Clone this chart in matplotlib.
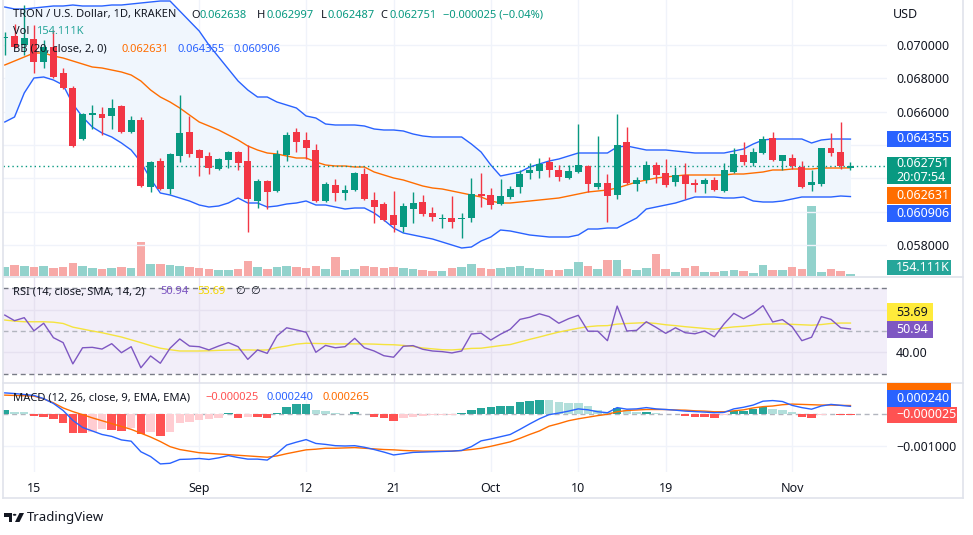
import matplotlib
matplotlib.use("Agg")
import matplotlib.pyplot as plt
from matplotlib.patches import Rectangle, Polygon, Circle
from matplotlib.lines import Line2D
import numpy as np
import pandas as pd

plt.rcParams['font.family'] = ['Noto Sans', 'DejaVu Sans']

# ---------------- data ----------------
start_date = "2022-08-12"
opens = [0.07040, 0.07054, 0.07000, 0.07036, 0.06898, 0.06988, 0.06832, 0.06742, 0.06436, 0.06580,
         0.06586, 0.06574, 0.06634, 0.06478, 0.06550, 0.06148, 0.06304, 0.06136, 0.06334, 0.06478,
         0.06370, 0.06334, 0.06256, 0.06310, 0.06358, 0.06304, 0.06064, 0.06184, 0.06124, 0.06340,
         0.06478, 0.06430, 0.06370, 0.06064, 0.06160, 0.06112, 0.06130, 0.06226, 0.06070, 0.06046,
         0.05980, 0.05908, 0.06016, 0.06058, 0.05992, 0.05956, 0.05962, 0.05956, 0.05962, 0.06106,
         0.06100, 0.06046, 0.06088, 0.06148, 0.06232, 0.06244, 0.06298, 0.06250, 0.06202, 0.06238,
         0.06274, 0.06148, 0.06172, 0.06100, 0.06418, 0.06166, 0.06190, 0.06280, 0.06232, 0.06178,
         0.06220, 0.06172, 0.06166, 0.06190, 0.06124, 0.06238, 0.06340, 0.06292, 0.06352, 0.06442,
         0.06304, 0.06322, 0.06268, 0.06160, 0.06166, 0.06382, 0.06358, 0.062638]
highs = [0.07078, 0.07126, 0.07240, 0.07120, 0.07030, 0.07090, 0.06862, 0.06754, 0.06592, 0.06640,
         0.06628, 0.06676, 0.06640, 0.06574, 0.06568, 0.06304, 0.06322, 0.06352, 0.06700, 0.06574,
         0.06376, 0.06358, 0.06322, 0.06364, 0.06364, 0.06400, 0.06196, 0.06190, 0.06370, 0.06478,
         0.06502, 0.06478, 0.06406, 0.06178, 0.06196, 0.06160, 0.06238, 0.06262, 0.06118, 0.06058,
         0.06124, 0.06052, 0.06118, 0.06100, 0.06028, 0.05986, 0.06094, 0.05992, 0.06202, 0.06232,
         0.06142, 0.06196, 0.06154, 0.06250, 0.06292, 0.06322, 0.06328, 0.06280, 0.06280, 0.06526,
         0.06280, 0.06454, 0.06226, 0.06586, 0.06508, 0.06208, 0.06304, 0.06298, 0.06316, 0.06268,
         0.06292, 0.06196, 0.06202, 0.06208, 0.06292, 0.06382, 0.06418, 0.06382, 0.06454, 0.06478,
         0.06340, 0.06346, 0.06304, 0.06250, 0.06382, 0.06472, 0.06538, 0.062997]
lows = [0.06940, 0.06982, 0.06940, 0.06832, 0.06862, 0.06802, 0.06736, 0.06388, 0.06430, 0.06496,
        0.06460, 0.06496, 0.06472, 0.06472, 0.06148, 0.06118, 0.06130, 0.06106, 0.06298, 0.06328,
        0.06214, 0.06226, 0.06250, 0.06262, 0.06250, 0.05878, 0.06022, 0.06016, 0.06118, 0.06304,
        0.06358, 0.06316, 0.06058, 0.06058, 0.06064, 0.06070, 0.06124, 0.06070, 0.05932, 0.05944,
        0.05878, 0.05878, 0.05932, 0.05974, 0.05944, 0.05902, 0.05902, 0.05842, 0.05938, 0.06028,
        0.06016, 0.06040, 0.06076, 0.06112, 0.06196, 0.06202, 0.06208, 0.06184, 0.06196, 0.06232,
        0.06118, 0.06136, 0.05938, 0.06076, 0.06166, 0.06124, 0.06172, 0.06172, 0.06148, 0.06154,
        0.06076, 0.06118, 0.06112, 0.06126, 0.06120, 0.06232, 0.06280, 0.06274, 0.06346, 0.06304,
        0.06250, 0.06256, 0.06142, 0.06124, 0.06154, 0.06334, 0.06256, 0.062487]
closes = [0.07046, 0.06988, 0.07042, 0.06898, 0.06988, 0.06808, 0.06742, 0.06394, 0.06586, 0.06592,
          0.06562, 0.06622, 0.06478, 0.06550, 0.06154, 0.06300, 0.06136, 0.06346, 0.06472, 0.06346,
          0.06322, 0.06262, 0.06316, 0.06358, 0.06292, 0.06076, 0.06184, 0.06118, 0.06346, 0.06460,
          0.06418, 0.06382, 0.06064, 0.06166, 0.06112, 0.06130, 0.06232, 0.06076, 0.06028, 0.05950,
          0.05920, 0.06034, 0.06052, 0.05986, 0.05968, 0.05962, 0.05938, 0.05962, 0.06106, 0.06094,
          0.06040, 0.06094, 0.06136, 0.06226, 0.06250, 0.06286, 0.06250, 0.06208, 0.06244, 0.06280,
          0.06166, 0.06172, 0.06094, 0.06400, 0.06172, 0.06190, 0.06280, 0.06220, 0.06160, 0.06220,
          0.06166, 0.06160, 0.06190, 0.06130, 0.06250, 0.06346, 0.06298, 0.06358, 0.06436, 0.06310,
          0.06340, 0.06274, 0.06148, 0.06178, 0.06382, 0.06352, 0.06274, 0.062751]
volumes_k = [900, 1100, 1000, 900, 1000, 800, 900, 1300, 1000, 800,
             700, 800, 900, 800, 3400, 1200, 1200, 1100, 1000, 900,
             800, 700, 600, 600, 700, 1500, 900, 700, 900, 1000,
             900, 800, 1000, 700, 1900, 600, 700, 1000, 900, 800,
             900, 800, 700, 600, 500, 500, 800, 900, 1200, 800,
             700, 800, 900, 1000, 800, 700, 600, 600, 700, 1400,
             1000, 700, 1600, 1600, 700, 600, 800, 2200, 700, 400,
             800, 1000, 400, 400, 500, 600, 500, 300, 1100, 600,
             600, 900, 700, 7000, 400, 700, 500, 154.111]
bb_basis = [0.06880, 0.06904, 0.06928, 0.06952, 0.06952, 0.06934, 0.06922, 0.06904, 0.06886, 0.06868,
            0.06862, 0.06850, 0.06838, 0.06820, 0.06784, 0.06730, 0.06688, 0.06658, 0.06622, 0.06580,
            0.06538, 0.06514, 0.06490, 0.06460, 0.06430, 0.06394, 0.06370, 0.06352, 0.06346, 0.06334,
            0.06322, 0.06322, 0.06298, 0.06280, 0.06274, 0.06274, 0.06268, 0.06268, 0.06238, 0.06220,
            0.06202, 0.06190, 0.06172, 0.06154, 0.06142, 0.06136, 0.06124, 0.06112, 0.06100, 0.06088,
            0.06064, 0.06052, 0.06052, 0.06058, 0.06064, 0.06070, 0.06076, 0.06082, 0.06094, 0.06106,
            0.06118, 0.06124, 0.06130, 0.06142, 0.06160, 0.06178, 0.06190, 0.06202, 0.06208, 0.06214,
            0.06220, 0.06220, 0.06220, 0.06220, 0.06220, 0.06226, 0.06226, 0.06232, 0.06238, 0.06250,
            0.06250, 0.06256, 0.06256, 0.06256, 0.06262, 0.06262, 0.06262, 0.062631]
bb_upper = [0.07228, 0.07216, 0.07216, 0.07222, 0.07228, 0.07234, 0.07234, 0.07240, 0.07234, 0.07234,
            0.07234, 0.07240, 0.07240, 0.07246, 0.07252, 0.07258, 0.07264, 0.07264, 0.07204, 0.07144,
            0.07084, 0.07000, 0.06928, 0.06856, 0.06784, 0.06730, 0.06688, 0.06688, 0.06658, 0.06640,
            0.06622, 0.06574, 0.06562, 0.06526, 0.06520, 0.06520, 0.06520, 0.06514, 0.06496, 0.06490,
            0.06490, 0.06484, 0.06466, 0.06454, 0.06448, 0.06448, 0.06448, 0.06448, 0.06406, 0.06358,
            0.06280, 0.06214, 0.06226, 0.06238, 0.06268, 0.06286, 0.06304, 0.06316, 0.06334, 0.06352,
            0.06352, 0.06352, 0.06352, 0.06388, 0.06394, 0.06382, 0.06370, 0.06370, 0.06370, 0.06364,
            0.06358, 0.06352, 0.06352, 0.06352, 0.06352, 0.06364, 0.06376, 0.06406, 0.06430, 0.06436,
            0.06436, 0.06436, 0.06436, 0.06412, 0.06430, 0.06436, 0.06436, 0.064355]
bb_lower = [0.06538, 0.06568, 0.06712, 0.06802, 0.06808, 0.06790, 0.06760, 0.06646, 0.06568, 0.06508,
            0.06472, 0.06448, 0.06412, 0.06370, 0.06298, 0.06196, 0.06112, 0.06100, 0.06082, 0.06064,
            0.06040, 0.06028, 0.06034, 0.06052, 0.06082, 0.06052, 0.06052, 0.06028, 0.06034, 0.06046,
            0.06052, 0.06064, 0.06040, 0.06040, 0.06028, 0.06016, 0.06022, 0.06022, 0.05992, 0.05950,
            0.05902, 0.05872, 0.05860, 0.05848, 0.05836, 0.05818, 0.05800, 0.05782, 0.05788, 0.05824,
            0.05848, 0.05890, 0.05884, 0.05872, 0.05860, 0.05854, 0.05848, 0.05848, 0.05848, 0.05860,
            0.05896, 0.05896, 0.05902, 0.05902, 0.05932, 0.05962, 0.06016, 0.06028, 0.06040, 0.06052,
            0.06070, 0.06088, 0.06088, 0.06088, 0.06082, 0.06082, 0.06088, 0.06064, 0.06058, 0.06058,
            0.06064, 0.06076, 0.06088, 0.06088, 0.06088, 0.06088, 0.06094, 0.060906]
rsi = [57.4, 54.8, 56.2, 50.1, 53.6, 46.9, 44.6, 34.7, 42.2, 42.4,
       41.6, 44.1, 39.9, 42.7, 32.9, 38.4, 35.0, 42.0, 46.3, 43.0,
       42.7, 41.2, 43.0, 44.6, 42.7, 36.8, 41.2, 39.6, 47.7, 51.5,
       50.5, 49.4, 40.1, 43.3, 42.2, 42.7, 46.6, 42.2, 40.7, 38.5,
       37.8, 42.9, 43.2, 41.5, 40.7, 40.4, 39.8, 40.7, 48.6, 49.0,
       45.8, 48.5, 50.8, 55.4, 56.4, 58.0, 56.7, 53.6, 55.7, 57.3,
       49.9, 49.9, 45.5, 61.6, 50.0, 50.3, 54.3, 51.7, 48.9, 51.5,
       49.2, 48.7, 50.0, 47.3, 53.3, 58.2, 55.7, 58.2, 61.8, 54.2,
       55.3, 52.0, 45.5, 47.1, 56.7, 55.4, 51.5, 50.94]
rsi_ma = [55.1, 54.6, 54.3, 54.3, 54.3, 54.1, 53.5, 51.8, 50.9, 50.0,
          49.2, 48.2, 47.2, 45.9, 44.6, 43.2, 42.0, 41.3, 40.7, 40.7,
          40.7, 40.8, 41.0, 41.1, 41.2, 41.2, 41.1, 41.2, 42.3, 43.0,
          43.9, 44.3, 44.2, 44.1, 44.0, 44.0, 44.0, 44.0, 43.9, 43.7,
          43.6, 43.3, 42.8, 42.1, 41.7, 41.3, 41.2, 41.5, 41.9, 42.0,
          42.6, 43.2, 43.7, 44.9, 46.1, 47.2, 48.4, 49.5, 50.4, 51.3,
          52.0, 52.4, 52.5, 53.2, 53.5, 53.7, 53.9, 53.5, 52.9, 52.5,
          52.0, 51.6, 51.2, 50.8, 51.4, 51.9, 52.2, 52.6, 53.1, 53.3,
          53.3, 53.1, 52.9, 52.7, 53.0, 53.5, 53.7, 53.69]
macd = [0.00066, 0.00064, 0.00061, 0.00058, 0.00048, 0.00033, 0.00011, -0.00020, -0.00042, -0.00053,
        -0.00064, -0.00070, -0.00081, -0.00085, -0.00118, -0.00133, -0.00156, -0.00154, -0.00142, -0.00141,
        -0.00139, -0.00142, -0.00137, -0.00130, -0.00136, -0.00141, -0.00141, -0.00144, -0.00123, -0.00097,
        -0.00088, -0.00080, -0.00092, -0.00095, -0.00099, -0.00100, -0.00099, -0.00104, -0.00111, -0.00119,
        -0.00128, -0.00124, -0.00120, -0.00119, -0.00118, -0.00117, -0.00116, -0.00114, -0.00102, -0.00084,
        -0.00078, -0.00071, -0.00064, -0.00048, -0.00031, -0.00015, -0.00002, 0.00003, 0.00009, 0.00016,
        0.00013, 0.00007, 0.00004, 0.00020, 0.00015, 0.00016, 0.00020, 0.00016, 0.00014, 0.00012,
        0.00009, 0.000075, 0.00006, 0.00004, 0.00005, 0.00016, 0.00021, 0.00028, 0.00040, 0.00042,
        0.00039, 0.00027, 0.00020, 0.00015, 0.00025, 0.00030, 0.00027, 0.000240]
macd_signal = [0.00059, 0.00058, 0.00057, 0.00056, 0.00047, 0.00035, 0.00019, 0.000075, -0.00002, -0.00012,
               -0.00021, -0.00030, -0.00039, -0.00048, -0.00060, -0.00072, -0.00086, -0.00102, -0.00111, -0.00116,
               -0.00121, -0.00123, -0.00125, -0.00127, -0.00129, -0.00131, -0.00133, -0.00135, -0.00131, -0.00124,
               -0.00118, -0.00112, -0.00110, -0.00107, -0.00107, -0.00106, -0.00105, -0.00107, -0.00109, -0.00111,
               -0.00112, -0.00114, -0.00115, -0.00116, -0.00116, -0.00116, -0.00116, -0.00114, -0.00111, -0.00107,
               -0.00101, -0.00094, -0.00087, -0.00076, -0.00064, -0.00053, -0.00038, -0.00030, -0.00021, -0.00015,
               -0.00010, -0.00005, -0.00001, 0.00007, 0.00011, 0.000125, 0.00014, 0.00014, 0.00014, 0.000125,
               0.00012, 0.00010, 0.00009, 0.00007, 0.00007, 0.00010, 0.00013, 0.00019, 0.00023, 0.00025,
               0.00029, 0.00031, 0.00030, 0.00029, 0.00028, 0.00028, 0.00027, 0.000265]
macd_hist = [0.000125, 0.00007, 0.00005, -0.00006, -0.00008, -0.00017, -0.00029, -0.00058, -0.00060, -0.00057,
             -0.00048, -0.00050, -0.00052, -0.00044, -0.00063, -0.00056, -0.00068, -0.00055, -0.00029, -0.00024,
             -0.00019, -0.00017, -0.00013, 0.00002, -0.00013, -0.00010, -0.00010, -0.00013, 0.00003, 0.00023,
             0.00031, 0.00032, 0.000125, 0.00009, 0.00002, 0.00001, 0.00005, 0.0, -0.00008, -0.00013,
             -0.00021, -0.00013, -0.00008, -0.00006, -0.00004, -0.00003, -0.00002, 0.00002, 0.000125, 0.00018,
             0.00021, 0.00025, 0.00026, 0.00036, 0.00041, 0.00044, 0.00043, 0.00036, 0.00034, 0.00033,
             0.00025, 0.000125, 0.00005, 0.00018, 0.000125, 0.00006, 0.00007, 0.00003, 0.00001, 0.0,
             -0.00006, -0.00008, -0.00008, -0.00012, -0.00004, 0.00008, 0.00010, 0.00015, 0.00023, 0.00016,
             0.000125, 0.00006, -0.00008, -0.00013, -0.00002, 0.00001, -0.00002, -0.000025]
tick_dates = ["2022-08-15", "2022-09-01", "2022-09-12", "2022-09-21",
              "2022-10-01", "2022-10-10", "2022-10-19", "2022-11-01"]
tick_labels = ["15", "Sep", "12", "21", "Oct", "10", "19", "Nov"]
price_grid = [0.058, 0.060, 0.062, 0.064, 0.066, 0.068, 0.070]
price_labeled = [0.058, 0.066, 0.068, 0.070]
rsi_grid = [40, 60]
rsi_labeled = [40]
macd_labeled = [-0.001]

# ---------------- colors ----------------
UP, DN = '#089981', '#f23645'
VUP, VDN = '#92d2cc', '#f7a9a7'
TXT = '#131722'
GRID = '#f0f3fa'
BORDER = '#e0e3eb'
BLUE, ORANGE, PURPLE, YELLOW = '#2962ff', '#ff6d00', '#7e57c2', '#f5e33e'

W, H = 973, 535
fig = plt.figure(figsize=(W / 100, H / 100), dpi=100)
fig.patch.set_facecolor('white')


def rect_px(x0, y0, x1, y1):
    return [x0 / W, 1 - y1 / H, (x1 - x0) / W, (y1 - y0) / H]


n = len(closes)
dates = pd.date_range(start_date, periods=n, freq="D")
idx = np.arange(n)
tick_idx = [dates.get_loc(pd.Timestamp(d)) for d in tick_dates]
X0_PX, STEP_PX = 4.8, 9.72
xlim = ((3 - X0_PX) / STEP_PX, (887 - X0_PX) / STEP_PX)

ax_vol = fig.add_axes(rect_px(3, 0, 887, 277))
ax_p = fig.add_axes(rect_px(3, 0, 887, 277))
ax_r = fig.add_axes(rect_px(3, 277, 887, 383))
ax_m = fig.add_axes(rect_px(3, 383, 887, 472))

for ax in (ax_vol, ax_p, ax_r, ax_m):
    ax.set_xlim(*xlim)
    for s in ax.spines.values():
        s.set_visible(False)
    ax.set_xticks(tick_idx)
    ax.tick_params(axis='both', length=0, labelbottom=False, labelleft=False)
ax_p.patch.set_alpha(0)

# vertical grid
for ax in (ax_vol, ax_m):
    for t in tick_idx:
        ax.axvline(t, color=GRID, lw=1, zorder=0)

# ---- price pane ----
o = np.array(opens); c = np.array(closes); hi = np.array(highs); lo = np.array(lows)
up = c >= o
ax_p.set_ylim(0.05608, 0.0727)
for yv in price_grid:
    ax_p.axhline(yv, color=GRID, lw=1, zorder=0)
ax_p.set_yticks(price_labeled)
ax_p.set_yticklabels([f"{v:.6f}" for v in price_labeled])
ax_p.yaxis.tick_right()
ax_p.tick_params(axis='y', labelright=True, labelsize=9, pad=6.5, colors=TXT)

# volume
ax_vol.set_ylim(-100, 27600)
ax_vol.bar(idx, volumes_k, width=0.88, color=np.where(up, VUP, VDN), zorder=1)
ax_vol.set_yticks([])

ax_p.fill_between(idx, bb_lower, bb_upper, color='#f0f6fd', lw=0, zorder=1)
ax_p.plot(idx, bb_upper, color=BLUE, lw=1.0, zorder=2)
ax_p.plot(idx, bb_lower, color=BLUE, lw=1.0, zorder=2)
ax_p.plot(idx, bb_basis, color=ORANGE, lw=1.0, zorder=2)
ax_p.axhline(closes[-1], color=UP, lw=1, ls=(0, (1, 2.2)), zorder=2)

cols = np.where(up, UP, DN)
ax_p.vlines(idx, lo, hi, colors=cols, lw=1.0, zorder=3)
body_h = np.maximum(np.abs(c - o), 0.000035)
ax_p.bar(idx, body_h, bottom=np.minimum(o, c), width=0.72, color=cols, zorder=4)

# ---- RSI pane ----
ax_r.set_ylim(25.81, 75.12)
ax_r.axhspan(30, 70, color='#f2eef9', lw=0, zorder=0)
for t in tick_idx:
    ax_r.axvline(t, color='#e6e1f0', lw=1, zorder=0.5)
for yv in rsi_grid:
    ax_r.axhline(yv, color='#e6e1f0', lw=1, zorder=0.5)
ax_r.axhline(70, color='#787b86', lw=1, ls=(0, (3.6, 2.6)), zorder=1)
ax_r.axhline(30, color='#787b86', lw=1, ls=(0, (3.6, 2.6)), zorder=1)
ax_r.axhline(50, color='#b2b5be', lw=1, ls=(0, (3.6, 2.6)), zorder=1)
ax_r.plot(idx, rsi_ma, color=YELLOW, lw=1.0, zorder=2)
ax_r.plot(idx, rsi, color=PURPLE, lw=1.0, zorder=3)
ax_r.set_yticks(rsi_labeled)
ax_r.set_yticklabels([f"{v:.2f}" for v in rsi_labeled])
ax_r.yaxis.tick_right()
ax_r.tick_params(axis='y', labelright=True, labelsize=9, pad=6.5, colors=TXT)

# ---- MACD pane ----
ax_m.set_ylim(-0.0018125, 0.00096875)
ax_m.axhline(-0.001, color=GRID, lw=1, zorder=0)
ax_m.axhline(0, color='#b2b5be', lw=1, ls=(0, (3.6, 2.6)), zorder=1)
hcols = []
for i, v in enumerate(macd_hist):
    prev = macd_hist[i - 1] if i > 0 else 0.0
    if v >= 0:
        hcols.append('#26a69a' if v > prev else '#b2dfdb')
    else:
        hcols.append('#ffcdd2' if v > prev else '#ff5252')
ax_m.bar(idx, macd_hist, width=0.87, color=hcols, zorder=2)
ax_m.plot(idx, macd_signal, color=ORANGE, lw=1.0, zorder=3)
ax_m.plot(idx, macd, color=BLUE, lw=1.0, zorder=4)
ax_m.set_yticks(macd_labeled)
ax_m.set_yticklabels(["\u22120.001000"])
ax_m.yaxis.tick_right()
ax_m.tick_params(axis='y', labelright=True, labelsize=9, pad=6.5, colors=TXT)
ax_m.set_xticklabels(tick_labels)
ax_m.tick_params(axis='x', labelbottom=True, labelsize=9, pad=7, colors=TXT)

# ---------------- figure-level decorations ----------------
def hline(y, x0, x1, color=BORDER):
    fig.add_artist(Line2D([x0 / W, x1 / W], [1 - y / H, 1 - y / H], color=color, lw=1.2,
                          transform=fig.transFigure, zorder=5))


def vline(x, y0, y1, color=BORDER):
    fig.add_artist(Line2D([x / W, x / W], [1 - y0 / H, 1 - y1 / H], color=color, lw=1.2,
                          transform=fig.transFigure, zorder=5))


hline(277, 3, 963)
hline(383, 3, 963)
hline(498, 3, 963)
vline(3, 0, 498)
vline(963, 0, 498)


def tag(x0, y0, x1, y1, color, lines, tcolor='white'):
    fig.add_artist(Rectangle((x0 / W, 1 - y1 / H), (x1 - x0) / W, (y1 - y0) / H,
                             transform=fig.transFigure, facecolor=color, edgecolor='none', zorder=8))
    hh = (y1 - y0) / len(lines)
    for k, s in enumerate(lines):
        yc = y0 + hh * (k + 0.5)
        fig.text(896 / W, 1 - yc / H, s, color=tcolor, fontsize=9, va='center', ha='left',
                 zorder=9)


tag(887, 131, 951, 147, BLUE, ["0.064355"])
tag(887, 157, 951, 184, UP, ["0.062751", "20:07:54"])
tag(887, 187, 951, 204, ORANGE, ["0.062631"])
tag(887, 205, 951, 222, BLUE, ["0.060906"])
tag(887, 260, 951, 275, '#26a69a', ["154.111K"])
tag(887, 303, 933, 321, '#ffeb3b', ["53.69"], tcolor=TXT)
tag(887, 321, 933, 338, PURPLE, ["50.94"])
tag(887, 383, 951, 390, ORANGE, [""])
tag(887, 390, 951, 407, BLUE, ["0.000240"])
tag(887, 407, 957, 423, '#ff5252', ["\u22120.000025"])

fig.text(893 / W, 1 - 15 / H, "USD", color=TXT, fontsize=9, va='center', ha='left')


def legend(y, parts, size=8):
    for x, s, col in parts:
        fig.text(x / W, 1 - y / H, s, color=col, fontsize=size, va='center', ha='left', zorder=7)


legend(15, [(12.7, "TRON / U.S. Dollar, 1D, KRAKEN", TXT),
            (191, "O", TXT), (200, "0.062638", UP),
            (257, "H", TXT), (266.5, "0.062997", UP),
            (320.5, "L", TXT), (328, "0.062487", UP),
            (380, "C", TXT), (389.5, "0.062751", UP),
            (443, "\u22120.000025 (\u22120.04%)", UP)])
legend(32, [(12.7, "Vol", TXT), (36, "154.111K", '#26a69a')])
legend(49, [(12.7, "BB (20, close, 2, 0)", TXT), (122, "0.062631", ORANGE),
            (178, "0.064355", BLUE), (233, "0.060906", BLUE)])
legend(292, [(12.7, "RSI (14, close, SMA, 14, 2)", TXT), (160.7, "50.94", PURPLE),
             (197, "53.69", '#f2d600'), (235, "\u2205", TXT), (250, "\u2205", TXT)])
legend(398, [(12.7, "MACD (12, 26, close, 9, EMA, EMA)", TXT), (205, "\u22120.000025", '#ff5252'),
             (266.7, "0.000240", BLUE), (322.7, "0.000265", ORANGE)])

# TradingView logo + wordmark
def P(pts):
    return [(x / W, 1 - y / H) for x, y in pts]


fig.add_artist(Polygon(P([(4, 513), (12, 513), (12, 522), (8.5, 522), (8.5, 516.5), (4, 516.5)]),
                       closed=True, transform=fig.transFigure, facecolor=TXT, edgecolor='none'))
fig.add_artist(Circle((14.6 / W, 1 - 514.8 / H), 1.8 / W, transform=fig.transFigure,
                      facecolor=TXT, edgecolor='none'))
fig.add_artist(Polygon(P([(19.5, 513), (24, 513), (19.5, 522), (15, 522)]),
                       closed=True, transform=fig.transFigure, facecolor=TXT, edgecolor='none'))
fig.text(26.5 / W, 1 - 518 / H, "TradingView", color=TXT, fontsize=9.5, va='center', ha='left')

fig.savefig("out.png", dpi=100, facecolor='white')
